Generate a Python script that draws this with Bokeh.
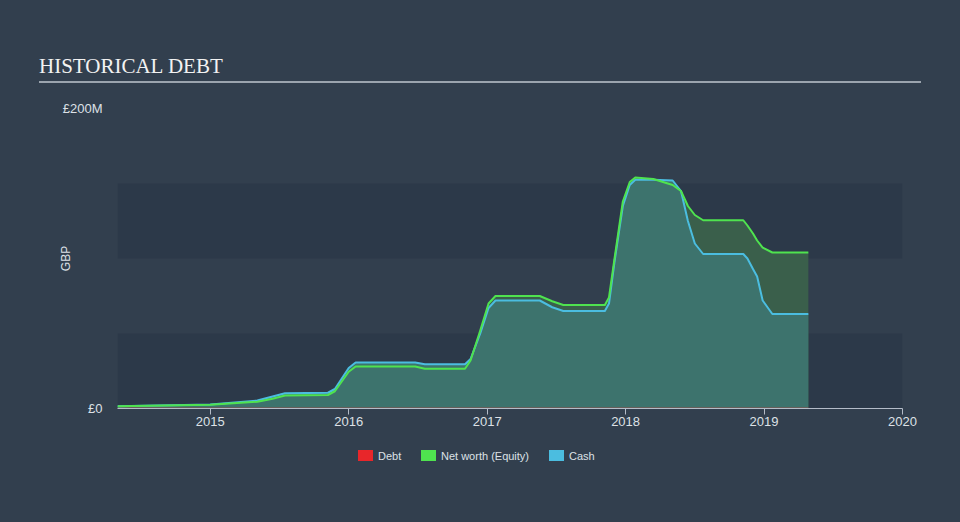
from bokeh.plotting import figure
from bokeh.layouts import column
from bokeh.models import BoxAnnotation, FixedTicker, ColumnDataSource, Div
from bokeh.embed import file_html
from bokeh.resources import INLINE

# ---- data (values in GBP millions, dates as decimal years) ----
dates = [2014.33, 2015.00, 2015.34, 2015.45, 2015.54, 2015.85, 2015.90, 2015.95,
         2016.00, 2016.05, 2016.48, 2016.55, 2016.84, 2016.88, 2016.95, 2017.01,
         2017.06, 2017.38, 2017.47, 2017.55, 2017.85, 2017.88, 2017.92, 2017.98,
         2018.03, 2018.07, 2018.20, 2018.34, 2018.40, 2018.45, 2018.50, 2018.56,
         2018.85, 2018.88, 2018.92, 2018.95, 2018.99, 2019.06, 2019.32]
cash = [1.5, 2.7, 5.3, 8.0, 10.2, 10.5, 13.0, 20.0,
        27.0, 30.7, 30.7, 29.5, 29.5, 33.0, 50.0, 67.0,
        72.0, 72.0, 67.5, 65.0, 65.0, 70.0, 98.0, 135.0,
        149.0, 152.5, 152.5, 152.0, 145.0, 125.0, 110.0, 103.0,
        103.0, 100.0, 93.0, 88.0, 72.0, 63.0, 63.0]
equity = [1.5, 2.5, 4.5, 6.5, 8.7, 9.0, 11.5, 18.0,
          24.5, 28.0, 28.0, 26.5, 26.5, 32.0, 52.0, 70.0,
          75.0, 75.0, 71.5, 69.0, 69.0, 74.0, 100.0, 138.0,
          151.0, 154.0, 153.0, 149.0, 145.0, 135.0, 129.0, 125.5,
          125.5, 122.0, 116.7, 112.0, 107.3, 104.0, 104.0]
debt = [0.0] * len(dates)

year_ticks = [2015, 2016, 2017, 2018, 2019, 2020]
y_ticks = [0, 200]
y_tick_labels = {0: "£0", 200: "£200M"}
legend_names = ["Debt", "Net worth (Equity)", "Cash"]
title_text = "HISTORICAL DEBT"
y_label = "GBP"

BG = "#323f4e"
BAND = "#2c3949"
RED = "#e8262a"
GREEN = "#4fe34f"
BLUE = "#4bbde0"
TXT = "#dde1e6"

# ---------------- header (title + rule) ----------------
head_html = (
    '<div style="position:relative;width:960px;height:90px;background:%s;">'
    '<div style="position:absolute;left:39px;top:56px;font-family:\'Liberation Serif\';'
    'font-size:21px;line-height:21px;color:#f2f2f2;white-space:nowrap;">%s</div>'
    '<div style="position:absolute;left:39px;top:81px;width:882px;height:2px;'
    'background:#9ba4ae;"></div></div>' % (BG, title_text)
)
head = Div(text=head_html, width=960, height=90, margin=0,
           styles={"background-color": BG})

# ---------------- main chart ----------------
src = ColumnDataSource(dict(x=dates, cash=cash, equity=equity, debt=debt))

p = figure(width=960, height=350, output_backend="svg", toolbar_location=None,
           x_range=(2014.33, 2020.0), y_range=(0, 200),
           min_border_left=117, min_border_right=58, min_border_top=18,
           min_border_bottom=32)
p.background_fill_color = None
p.border_fill_color = None
p.outline_line_color = None
p.grid.visible = False
p.margin = 0
p.styles = {"background-color": BG}

for lo, hi in [(0, 50), (100, 150)]:
    p.add_layout(BoxAnnotation(bottom=lo, top=hi, fill_color=BAND, fill_alpha=1,
                               line_alpha=0, level="underlay"))

p.varea(x="x", y1=0, y2="equity", source=src, fill_color="#3a5f4b", fill_alpha=1)
p.varea(x="x", y1=0, y2="cash", source=src, fill_color="#3d736d", fill_alpha=1)
p.line(x="x", y="debt", source=src, line_color=RED, line_width=1.5)
p.line(x="x", y="cash", source=src, line_color=BLUE, line_width=2, line_join="round")
p.line(x="x", y="equity", source=src, line_color=GREEN, line_width=2, line_join="round")

xa = p.xaxis[0]
xa.ticker = FixedTicker(ticks=year_ticks)
xa.major_label_overrides = {y: str(y) for y in year_ticks}
xa.axis_line_color = "#b4bcc8"
xa.major_tick_line_color = "#b4bcc8"
xa.major_tick_out = 6
xa.major_tick_in = 0
xa.minor_tick_line_color = None
xa.major_label_text_color = TXT
xa.major_label_text_font = "Liberation Sans"
xa.major_label_text_font_size = "13px"
xa.major_label_standoff = 2

ya = p.yaxis[0]
ya.ticker = FixedTicker(ticks=y_ticks)
ya.major_label_overrides = y_tick_labels
ya.axis_line_color = None
ya.major_tick_line_color = None
ya.minor_tick_line_color = None
ya.major_label_text_color = TXT
ya.major_label_text_font = "Liberation Sans"
ya.major_label_text_font_size = "13px"
ya.major_label_standoff = 9
ya.axis_label = y_label
ya.axis_label_text_color = TXT
ya.axis_label_text_font = "Liberation Sans"
ya.axis_label_text_font_size = "12px"
ya.axis_label_text_font_style = "normal"
ya.axis_label_standoff = -13

# ---------------- legend (below the chart) ----------------
colors = [RED, GREEN, BLUE]
box_x = [358, 421, 549]
text_x = [378, 441, 569]
items = []
for name, c, bx, tx in zip(legend_names, colors, box_x, text_x):
    items.append(
        '<div style="position:absolute;left:%dpx;top:10px;width:15px;height:11px;'
        'background:%s;"></div>'
        '<div style="position:absolute;left:%dpx;top:9px;font-family:\'Liberation Sans\';'
        'font-size:11px;line-height:14px;color:%s;white-space:nowrap;">%s</div>'
        % (bx, c, tx, TXT, name))
foot_html = ('<div style="position:relative;width:960px;height:82px;background:%s;">%s</div>'
             % (BG, "".join(items)))
foot = Div(text=foot_html, width=960, height=82, margin=0,
           styles={"background-color": BG})

layout = column(head, p, foot, spacing=0)
open("out.html", "w").write(file_html(layout, INLINE))
